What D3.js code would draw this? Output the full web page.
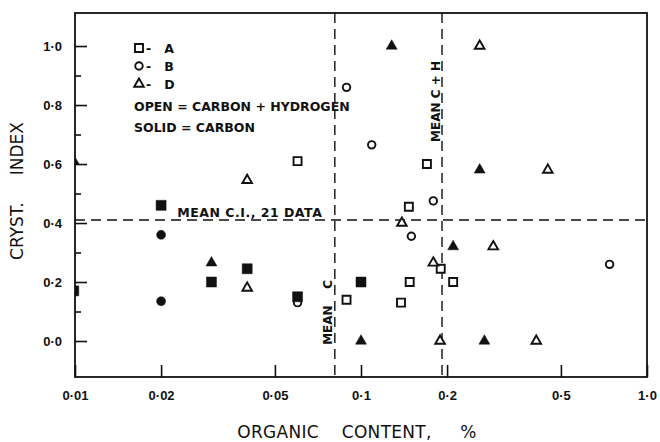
<!DOCTYPE html>
<html>
<head>
<meta charset="utf-8">
<script src="https://cdnjs.cloudflare.com/ajax/libs/d3/7.8.5/d3.min.js"></script>
<style>
    body { margin: 0; background: #fff; }
    svg { display: block; }
    text { font-family: "DejaVu Sans", sans-serif; fill: #111; white-space: pre; }
    .tick text { font-family: "Liberation Sans", sans-serif; font-weight: bold; font-size: 13px; }
    .label { font-weight: bold; font-size: 12.5px; }
    .vlabel { font-weight: bold; font-size: 12px; }
    .title { font-size: 17px; }
</style>
</head>
<body>
<div id="wrapper"></div>
<script>
// points as [organic content %, cryst. index]
var squares_open = [[0.06, 0.61], [0.17, 0.60], [0.147, 0.455], [0.089, 0.14],
                    [0.148, 0.20], [0.138, 0.13], [0.19, 0.245], [0.21, 0.20]];
var squares_solid = [[0.0099, 0.17], [0.02, 0.46], [0.03, 0.20], [0.04, 0.245],
                     [0.06, 0.15], [0.1, 0.20]];
var circles_open = [[0.06, 0.13], [0.089, 0.86], [0.109, 0.665], [0.179, 0.475],
                    [0.15, 0.355], [0.74, 0.26]];
var circles_solid = [[0.02, 0.36], [0.02, 0.135]];
var triangles_open = [[0.04, 0.545], [0.04, 0.18], [0.26, 1.0], [0.45, 0.58],
                      [0.29, 0.32], [0.139, 0.40], [0.179, 0.265], [0.189, 0.0],
                      [0.41, 0.0]];
var triangles_solid = [[0.0099, 0.61], [0.03, 0.265], [0.128, 1.0], [0.26, 0.58],
                       [0.21, 0.32], [0.1, 0.0], [0.27, 0.0]];

var mean_ci = 0.41;
var mean_c = 0.081;
var mean_ch = 0.192;

var x_ticks = [0.01, 0.02, 0.05, 0.1, 0.2, 0.5, 1.0];
var x_labels = ['0·01', '0·02', '0·05', '0·1', '0·2', '0·5', '1·0'];
var y_ticks = [0, 0.2, 0.4, 0.6, 0.8, 1.0];
var y_labels = ['0·0', '0·2', '0·4', '0·6', '0·8', '1·0'];
var y_minor = [0.1, 0.3, 0.5, 0.7, 0.9];

var legend_rows = [['square', '-   A'], ['circle', '-   B'], ['triangle', '-   D']];
var legend_notes = ['OPEN = CARBON + HYDROGEN', 'SOLID = CARBON'];

var WIDTH = 660, HEIGHT = 442;
var MARGIN = {left: 75, top: 13, right: 13, bottom: 65};
var DRAW_WIDTH = WIDTH - MARGIN.left - MARGIN.right;
var DRAW_HEIGHT = HEIGHT - MARGIN.top - MARGIN.bottom;

var svg = d3.select('#wrapper').append('svg')
    .attr('width', WIDTH)
    .attr('height', HEIGHT);
svg.append('rect').attr('width', WIDTH).attr('height', HEIGHT).attr('fill', '#fff');

svg.append('clipPath').attr('id', 'plot-clip')
  .append('rect')
    .attr('width', DRAW_WIDTH)
    .attr('height', DRAW_HEIGHT);

var draw_area = svg.append('g')
    .attr('transform', 'translate(' + MARGIN.left + ',' + MARGIN.top + ')');

var scale_x = d3.scaleLog().domain([0.01, 1.0]).range([0, DRAW_WIDTH]);
var scale_y = d3.scaleLinear().domain([-0.122, 1.112]).range([DRAW_HEIGHT, 0]);

// axes, ticks point inwards
var axis_x = d3.axisBottom(scale_x)
    .tickValues(x_ticks)
    .tickFormat(function(d, i) { return x_labels[i]; })
    .tickSize(-12)
    .tickPadding(14);
var axis_y = d3.axisLeft(scale_y)
    .tickValues(y_ticks)
    .tickFormat(function(d, i) { return y_labels[i]; })
    .tickSize(-12)
    .tickPadding(13);
var axis_y_minor = d3.axisLeft(scale_y)
    .tickValues(y_minor)
    .tickFormat('')
    .tickSize(-6);

draw_area.append('g')
    .attr('transform', 'translate(0,' + DRAW_HEIGHT + ')')
    .call(axis_x);
draw_area.append('g').call(axis_y);
draw_area.append('g').call(axis_y_minor);
draw_area.selectAll('.domain').remove();
draw_area.selectAll('.tick line').attr('stroke', '#111').attr('stroke-width', 1.6);

draw_area.append('rect')
    .attr('width', DRAW_WIDTH)
    .attr('height', DRAW_HEIGHT)
    .attr('fill', 'none')
    .attr('stroke', '#111')
    .attr('stroke-width', 1.8);

// mean lines
var dash = '10,6';
draw_area.append('line')
    .attr('x1', 0).attr('x2', DRAW_WIDTH)
    .attr('y1', scale_y(mean_ci)).attr('y2', scale_y(mean_ci))
    .attr('stroke', '#111').attr('stroke-width', 1.4).attr('stroke-dasharray', dash);
[mean_c, mean_ch].forEach(function(m) {
    draw_area.append('line')
        .attr('x1', scale_x(m)).attr('x2', scale_x(m))
        .attr('y1', 0).attr('y2', DRAW_HEIGHT)
        .attr('stroke', '#111').attr('stroke-width', 1.4).attr('stroke-dasharray', dash);
});

draw_area.append('text')
    .attr('class', 'label')
    .attr('x', scale_x(0.0228))
    .attr('y', scale_y(mean_ci) - 3)
    .style('letter-spacing', '0.5px')
    .text('MEAN C.I., 21 DATA');
draw_area.append('text')
    .attr('class', 'vlabel')
    .attr('transform', 'translate(' + (scale_x(mean_c) - 3) + ',' + scale_y(-0.013) + ') rotate(-90)')
    .text('MEAN    C');
draw_area.append('text')
    .attr('class', 'vlabel')
    .attr('transform', 'translate(' + (scale_x(mean_ch) - 2) + ',' + scale_y(0.675) + ') rotate(-90)')
    .text('MEAN C + H');

// markers
var symbol_types = {
    square: d3.symbolSquare,
    circle: d3.symbolCircle,
    triangle: d3.symbolTriangle
};
var symbol_sizes = {
    square: {open: 64, solid: 100},
    circle: {open: 44, solid: 64},
    triangle: {open: 40, solid: 52}
};

function draw_points(data, kind, solid) {
    var path = d3.symbol()
        .type(symbol_types[kind])
        .size(symbol_sizes[kind][solid ? 'solid' : 'open']);
    draw_area.append('g')
        .attr('clip-path', 'url(#plot-clip)')
      .selectAll('path')
        .data(data)
        .enter()
      .append('path')
        .attr('d', path)
        .attr('transform', function(d) {
            return 'translate(' + scale_x(d[0]) + ',' + scale_y(d[1]) + ')';
        })
        .attr('fill', solid ? '#111' : '#fff')
        .attr('stroke', '#111')
        .attr('stroke-width', solid ? 0.5 : 1.9);
}

draw_points(circles_open, 'circle', false);
draw_points(squares_open, 'square', false);
draw_points(triangles_open, 'triangle', false);
draw_points(squares_solid, 'square', true);
draw_points(circles_solid, 'circle', true);
draw_points(triangles_solid, 'triangle', true);

// legend
var legend = svg.append('g').attr('transform', 'translate(139,48)');
legend_rows.forEach(function(row, i) {
    legend.append('path')
        .attr('d', d3.symbol().type(symbol_types[row[0]]).size(symbol_sizes[row[0]].open)())
        .attr('transform', 'translate(0,' + (i * 18) + ')')
        .attr('fill', '#fff')
        .attr('stroke', '#111')
        .attr('stroke-width', 1.9);
    legend.append('text')
        .attr('class', 'label')
        .attr('x', 7)
        .attr('y', i * 18 + 5)
        .text(row[1]);
});
legend_notes.forEach(function(note, i) {
    legend.append('text')
        .attr('class', 'label')
        .attr('x', -5)
        .attr('y', 63 + i * 21)
        .text(note);
});

// axis titles
svg.append('text')
    .attr('class', 'title')
    .attr('x', 357)
    .attr('y', 438)
    .attr('text-anchor', 'middle')
    .style('letter-spacing', '0.3px')
    .text('ORGANIC    CONTENT,     %');
svg.append('text')
    .attr('class', 'title')
    .attr('text-anchor', 'middle')
    .attr('transform', 'translate(23,191) rotate(-90)')
    .text('CRYST.     INDEX');
</script>
</body>
</html>
